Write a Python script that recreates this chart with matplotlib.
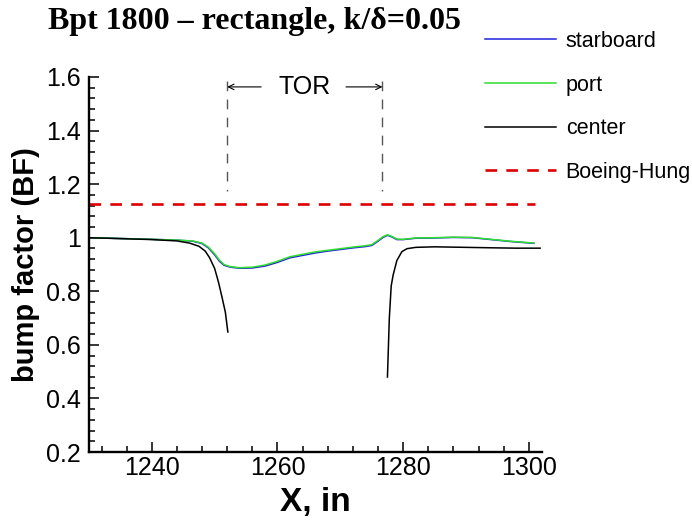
import numpy as np
import matplotlib
matplotlib.use("Agg")
import matplotlib.pyplot as plt
from matplotlib.ticker import MultipleLocator

# bump factor along the model, three rakes
x_side = [1230, 1235, 1240, 1244, 1246.5, 1248, 1249, 1250, 1250.8, 1251.5,
          1252.5, 1254, 1256, 1258, 1260, 1262, 1264, 1266, 1268, 1270,
          1272, 1274, 1275, 1276, 1276.8, 1277.5, 1278.2, 1279, 1280, 1282,
          1285, 1288, 1291, 1294, 1297, 1300.8]
starboard = [1.0, 0.997, 0.994, 0.991, 0.987, 0.978, 0.962, 0.936, 0.911, 0.897,
             0.890, 0.886, 0.887, 0.894, 0.908, 0.925, 0.934, 0.943, 0.950, 0.956,
             0.962, 0.967, 0.971, 0.987, 1.001, 1.009, 1.003, 0.993, 0.993, 0.998,
             0.999, 1.001, 1.000, 0.993, 0.986, 0.979]
port = [1.0, 0.997, 0.994, 0.991, 0.988, 0.980, 0.965, 0.940, 0.915, 0.900,
        0.892, 0.888, 0.890, 0.898, 0.912, 0.929, 0.938, 0.947, 0.953, 0.959,
        0.965, 0.970, 0.974, 0.990, 1.004, 1.011, 1.005, 0.995, 0.994, 0.999,
        1.000, 1.002, 1.001, 0.994, 0.987, 0.980]

x_center = [1230, 1236, 1240, 1244, 1246, 1247.5, 1248.5, 1249.2, 1250, 1250.6,
            1251.2, 1251.7, 1252.1, np.nan,
            1277.5, 1277.8, 1278.1, 1278.4, 1279.0, 1279.8, 1280.6, 1282,
            1285, 1290, 1295, 1298, 1301.8]
center = [1.0, 0.996, 0.993, 0.988, 0.980, 0.968, 0.950, 0.925, 0.885, 0.835,
          0.775, 0.722, 0.648, np.nan,
          0.48, 0.70, 0.82, 0.86, 0.915, 0.948, 0.959, 0.964,
          0.966, 0.964, 0.962, 0.961, 0.961]

boeing_hung = 1.125
boeing_x = [1230, 1301]

tor_start, tor_end = 1252.0, 1276.7

yticks = [0.2, 0.4, 0.6, 0.8, 1.0, 1.2, 1.4, 1.6]
ytick_labels = ['0.2', '0.4', '0.6', '0.8', '1', '1.2', '1.4', '1.6']
xticks = [1240, 1260, 1280, 1300]

sans = 'Liberation Sans'

fig = plt.figure(figsize=(6.92, 5.23), dpi=100)
ax = fig.add_axes([89/692, 1-452/523, (542-89)/692, (452-77)/523])

ax.plot(x_side, starboard, color='#2020e0', lw=1.1, label='starboard')
ax.plot(x_side, port, color='#30dd30', lw=1.1, label='port')
ax.plot(x_center, center, color='black', lw=1.1, label='center')
ax.plot(boeing_x, [boeing_hung, boeing_hung], color='#dd0000', lw=1.9,
        dashes=(4.4, 3.5), label='Boeing-Hung')

# turbulent-onset region markers
for xv in (tor_start, tor_end):
    ax.plot([xv, xv], [1.585, 1.176], color='#555555', lw=1.0, dashes=(7, 6))
ax.annotate('', xy=(tor_start, 1.563), xytext=(tor_start + 5.4, 1.563),
            arrowprops=dict(arrowstyle='->', lw=0.8, color='black',
                            shrinkA=0, shrinkB=0))
ax.annotate('', xy=(tor_end, 1.563), xytext=(tor_end - 5.8, 1.563),
            arrowprops=dict(arrowstyle='->', lw=0.8, color='black',
                            shrinkA=0, shrinkB=0))
ax.text((tor_start + tor_end) / 2, 1.563, 'TOR', ha='center', va='center',
        fontsize=18, family=sans)

ax.set_xlim(1230, 1302.1)
ax.set_ylim(0.2, 1.6)
ax.set_xticks(xticks)
ax.set_yticks(yticks)
ax.set_yticklabels(ytick_labels)
ax.xaxis.set_minor_locator(MultipleLocator(4))
ax.yaxis.set_minor_locator(MultipleLocator(0.04))
ax.tick_params(which='both', direction='in', width=1.1, color='black')
ax.tick_params(which='major', length=7)
ax.tick_params(which='minor', length=4)
ax.tick_params(axis='x', which='major', labelsize=18, pad=3)
ax.tick_params(axis='y', which='major', labelsize=18, pad=6)
for lab in ax.get_xticklabels() + ax.get_yticklabels():
    lab.set_family(sans)

for side in ('top', 'right'):
    ax.spines[side].set_visible(False)
for side in ('left', 'bottom'):
    ax.spines[side].set_linewidth(1.7)
ax.patch.set_alpha(0)

ax.set_ylabel('bump factor (BF)', fontsize=21, fontweight='bold', family=sans,
              labelpad=4)
ax.set_xlabel('X, in', fontsize=24, fontweight='bold', family=sans, labelpad=5)

fig.text(254/692, 1-22/523, 'Bpt 1800 \u2013 rectangle, k/\u03b4=0.05',
         ha='center', va='center', fontsize=23, fontweight='bold',
         family='Liberation Serif')

fig.legend(loc='upper left', bbox_to_anchor=(485/692, 1-31/523),
           frameon=False, prop={'family': sans, 'size': 15.5},
           handlelength=3.3, handletextpad=0.45, labelspacing=1.05,
           borderpad=0, borderaxespad=0)

fig.savefig('out.png', dpi=100)
